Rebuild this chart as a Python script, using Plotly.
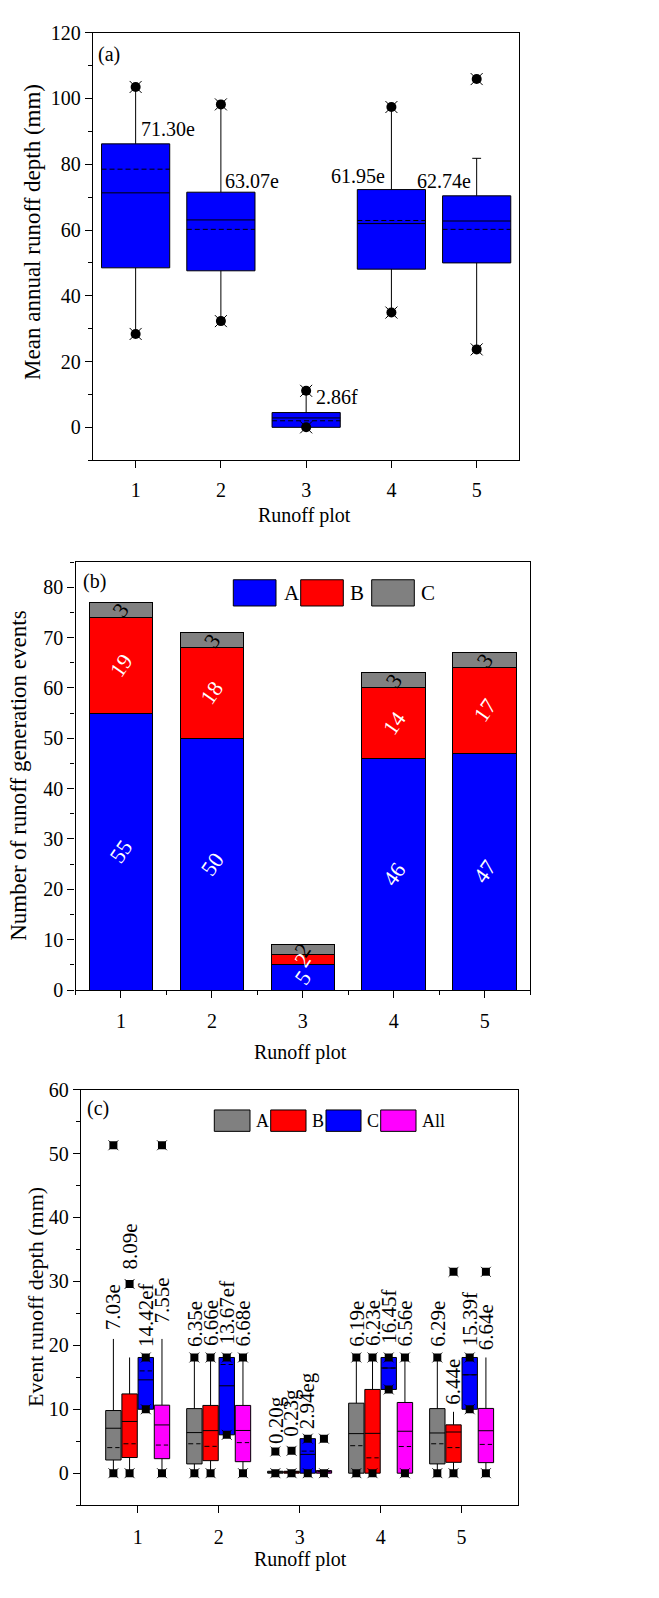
import plotly.graph_objects as go

W, H = 659, 1598
FONT = "Liberation Serif, Times New Roman, serif"

# ---------------- data ----------------
plots = [1, 2, 3, 4, 5]

# panel (a): mean annual runoff depth (mm)
a_q1 = [48.5, 47.6, 0.0, 48.1, 50.0]
a_median = [71.30, 63.07, 2.86, 61.95, 62.74]
a_q3 = [86.2, 71.5, 4.5, 72.3, 70.4]
a_mean = [78.5, 60.2, 2.0, 62.9, 60.2]
a_lowerfence = [28.4, 32.3, 0.0, 34.9, 23.7]
a_upperfence = [103.5, 98.2, 11.1, 97.4, 81.8]
a_min = [28.4, 32.3, 0.0, 34.9, 23.7]
a_max = [103.5, 98.2, 11.1, 97.4, 105.9]
a_letters = ["e", "e", "f", "e", "e"]

# panel (b): number of runoff generation events
b_A = [55, 50, 5, 46, 47]
b_B = [19, 18, 2, 14, 17]
b_C = [3, 3, 2, 3, 3]

# panel (c): event runoff depth (mm)
c_names = ["A", "B", "C", "All"]
c_q1 = {"A": [2.06, 1.45, 0.0, 0.0, 1.45],
        "B": [2.45, 1.96, 0.0, 0.0, 1.70],
        "C": [10.0, 6.0, 0.0, 13.1, 10.0],
        "All": [2.27, 1.80, 0.0, 0.0, 1.65]}
c_median = {"A": [7.03, 6.35, 0.20, 6.19, 6.29],
            "B": [8.09, 6.66, 0.23, 6.23, 6.44],
            "C": [14.6, 13.67, 2.94, 16.45, 15.39],
            "All": [7.55, 6.68, 0.20, 6.56, 6.64]}
c_q3 = {"A": [9.8, 10.1, 0.3, 10.95, 10.1],
        "B": [12.4, 10.6, 0.3, 13.1, 7.56],
        "C": [18.1, 18.1, 5.4, 18.1, 18.1],
        "All": [10.64, 10.6, 0.4, 11.06, 10.13]}
c_mean = {"A": [4.0, 4.6, 0.2, 4.3, 4.6],
          "B": [4.6, 4.2, 0.2, 2.4, 4.0],
          "C": [16.0, 17.0, 3.45, 16.45, 15.39],
          "All": [4.4, 4.78, 0.25, 4.17, 4.5]}
c_lowerfence = {"A": [0, 0, 0, 0, 0],
                "B": [0, 0, 0, 0, 0],
                "C": [10.0, 6.0, 0.0, 13.1, 10.0],
                "All": [0, 0, 0, 0, 0]}
c_upperfence = {"A": [21.0, 18.1, 0.3, 18.1, 18.1],
                "B": [18.1, 18.1, 0.3, 18.1, 9.6],
                "C": [18.1, 18.1, 5.4, 18.1, 18.1],
                "All": [21.0, 18.1, 0.4, 18.1, 18.1]}
c_min = {"A": [0, 0, 0, 0, 0],
         "B": [0, 0, 0, 0, 0],
         "C": [10.0, 6.0, 0.0, 13.1, 10.0],
         "All": [0, 0, 0, 0, 0]}
c_max = {"A": [51.3, 18.1, 3.4, 18.1, 18.1],
         "B": [29.6, 18.1, 3.5, 18.1, 31.5],
         "C": [18.1, 18.1, 5.4, 18.1, 18.1],
         "All": [51.3, 18.1, 5.4, 18.1, 31.5]}
c_labels = {"A": ["7.03e", "6.35e", "0.20g", "6.19e", "6.29e"],
            "B": ["8.09e", "6.66e", "0.23g", "6.23e", "6.44e"],
            "C": ["14.42ef", "13.67ef", "2.94eg", "16.45f", "15.39f"],
            "All": ["7.55e", "6.68e", "", "6.56e", "6.64e"]}

# ---------------- layout helpers / styles ----------------
def px(x):
    return x / W

def py(y):
    return 1 - y / H

BLUE, RED, GRAY, MAG = "#0000FF", "#FF0000", "#808080", "#FF00FF"
c_colors = {"A": GRAY, "B": RED, "C": BLUE, "All": MAG}
c_offsets = {"A": -0.3, "B": -0.1, "C": 0.1, "All": 0.3}
A_WIDTH = 0.8
C_WIDTH = 0.19
# label bottoms (y, data units) for panel (c)
c_label_base = {"A": [22.1, 19.5, 4.3, 19.5, 19.5],
                "B": [31.5, 19.5, 5.3, 19.5, 10.3],
                "C": [19.4, 19.8, 6.6, 19.9, 19.5],
                "All": [23.1, 19.5, 0, 19.5, 18.9]}
# panel (a) label shifts (px) relative to box anchor
a_label_shift = [(3, 15, "left"), (2, 11, "left"), (8, -6, "left"),
                 (-4, 14, "right"), (-4, 15, "right")]


def mean_segments(xs, means, width):
    lx, ly = [], []
    for x, m in zip(xs, means):
        lx += [x - width / 2, x + width / 2, None]
        ly += [m, m, None]
    return lx, ly


fig = go.Figure()

# ---------------- panel (a) ----------------
fig.add_trace(go.Box(
    x=plots, q1=a_q1, median=a_median, q3=a_q3,
    lowerfence=a_lowerfence, upperfence=a_upperfence,
    width=A_WIDTH, whiskerwidth=0.13, fillcolor=BLUE,
    line=dict(color="black", width=1), boxpoints=False,
    xaxis="x", yaxis="y", showlegend=False, hoverinfo="skip"))
mx, my = mean_segments(plots, a_mean, A_WIDTH)
fig.add_trace(go.Scatter(x=mx, y=my, mode="lines",
                         line=dict(color="black", width=1, dash="5px,3px"),
                         xaxis="x", yaxis="y", showlegend=False, hoverinfo="skip"))
fig.add_trace(go.Scatter(
    x=plots + plots, y=a_min + a_max, mode="markers",
    marker=dict(symbol="circle", size=10, color="black"),
    xaxis="x", yaxis="y", showlegend=False, hoverinfo="skip"))
fig.add_trace(go.Scatter(
    x=plots + plots, y=a_min + a_max, mode="markers",
    marker=dict(symbol="x-thin-open", size=12, color="black",
                line=dict(color="black", width=1)),
    xaxis="x", yaxis="y", showlegend=False, hoverinfo="skip"))

annotations = []
for i, p in enumerate(plots):
    dx, dy, anc = a_label_shift[i]
    yref_val = a_q3[i] if i != 2 else a_upperfence[i]
    annotations.append(dict(
        x=p, y=yref_val, xref="x", yref="y", text=f"{a_median[i]:.2f}{a_letters[i]}",
        showarrow=False, xanchor=anc, yanchor="middle", xshift=dx, yshift=dy,
        font=dict(family=FONT, size=20, color="black")))

# ---------------- panel (b) ----------------
for vals, col, name in [(b_A, BLUE, "A"), (b_B, RED, "B"), (b_C, GRAY, "C")]:
    fig.add_trace(go.Bar(
        x=plots, y=vals, name=name, marker=dict(color=col, line=dict(color="black", width=1)),
        width=0.7, xaxis="x2", yaxis="y2", showlegend=False, hoverinfo="skip"))

for i, p in enumerate(plots):
    base = 0
    for vals, tcol in [(b_A, "white"), (b_B, "white"), (b_C, "black")]:
        annotations.append(dict(
            x=p, y=base + vals[i] / 2, xref="x2", yref="y2", text=str(vals[i]),
            showarrow=False, textangle=-55, xanchor="center", yanchor="middle",
            font=dict(family=FONT, size=22, color=tcol)))
        base += vals[i]

# ---------------- panel (c) ----------------
for nm in c_names:
    xs = [p + c_offsets[nm] for p in plots]
    fig.add_trace(go.Box(
        x=xs, q1=c_q1[nm], median=c_median[nm], q3=c_q3[nm],
        lowerfence=c_lowerfence[nm], upperfence=c_upperfence[nm],
        width=C_WIDTH, whiskerwidth=0, fillcolor=c_colors[nm],
        line=dict(color="black", width=1), boxpoints=False,
        xaxis="x3", yaxis="y3", showlegend=False, hoverinfo="skip"))
for nm in c_names:
    xs = [p + c_offsets[nm] for p in plots]
    mx, my = mean_segments(xs, c_mean[nm], C_WIDTH * 0.8)
    fig.add_trace(go.Scatter(x=mx, y=my, mode="lines",
                             line=dict(color="black", width=1, dash="5px,3px"),
                             xaxis="x3", yaxis="y3", showlegend=False, hoverinfo="skip"))
for nm in c_names:
    xs = [p + c_offsets[nm] for p in plots]
    fig.add_trace(go.Scatter(
        x=xs + xs, y=c_min[nm] + c_max[nm], mode="markers",
        marker=dict(symbol="square", size=8, color="black"),
        xaxis="x3", yaxis="y3", showlegend=False, hoverinfo="skip"))
    fig.add_trace(go.Scatter(
        x=xs + xs, y=c_min[nm] + c_max[nm], mode="markers",
        marker=dict(symbol="x-thin-open", size=10, color="black",
                    line=dict(color="black", width=0.8)),
        xaxis="x3", yaxis="y3", showlegend=False, hoverinfo="skip"))
    for i, p in enumerate(plots):
        if c_labels[nm][i]:
            annotations.append(dict(
                x=xs[i], y=c_label_base[nm][i], xref="x3", yref="y3",
                text=c_labels[nm][i], showarrow=False, textangle=-90,
                xanchor="center", yanchor="bottom",
                font=dict(family=FONT, size=21, color="black")))

# ---------------- legends, titles, panel letters ----------------
shapes = []
def legend_item(x0, x1, y0, y1, color, label, tx, ty, size):
    shapes.append(dict(type="rect", xref="paper", yref="paper",
                       x0=px(x0), x1=px(x1), y0=py(y1), y1=py(y0),
                       fillcolor=color, line=dict(color="black", width=1)))
    annotations.append(dict(x=px(tx), y=py(ty), xref="paper", yref="paper", text=label,
                            showarrow=False, xanchor="left", yanchor="middle",
                            font=dict(family=FONT, size=size, color="black")))

legend_item(233.3, 276, 576.7, 603.3, BLUE, "A", 281.5, 590, 21)
legend_item(300.7, 343.3, 576.7, 603.3, RED, "B", 348, 590, 21)
legend_item(371.7, 414.3, 576.7, 603.3, GRAY, "C", 418.5, 590, 21)

legend_item(214.3, 250, 1114.3, 1136, GRAY, "A", 254, 1125.3, 18)
legend_item(270.7, 306, 1114.3, 1136, RED, "B", 309.5, 1125.3, 18)
legend_item(326, 361, 1114.3, 1136, BLUE, "C", 364.5, 1125.3, 18)
legend_item(380.7, 416, 1114.3, 1136, MAG, "All", 419.5, 1125.3, 18)

def text_px(x, y, text, size, angle=0, xanchor="center"):
    annotations.append(dict(x=px(x), y=py(y), xref="paper", yref="paper", text=text,
                            showarrow=False, textangle=angle, xanchor=xanchor,
                            yanchor="middle", font=dict(family=FONT, size=size, color="black")))

text_px(96, 44, "(a)", 20, xanchor="left")
text_px(80.5, 578, "(b)", 20, xanchor="left")
text_px(84.5, 1113, "(c)", 20, xanchor="left")

text_px(304, 512, "Runoff plot", 20)
text_px(300, 1056, "Runoff plot", 20)
text_px(300, 1570, "Runoff plot", 20)

text_px(33, 224, "Mean annual runoff depth (mm)", 23, angle=-90)
text_px(18.5, 776, "Number of runoff generation events", 23, angle=-90)
text_px(35, 1304, "Event runoff depth (mm)", 22, angle=-90)

tickfont = dict(family=FONT, size=20, color="black")
axis_common = dict(showline=True, linecolor="black", linewidth=1.3, mirror=True,
                   ticks="outside", ticklen=7, tickwidth=1.3, tickcolor="black",
                   showgrid=False, zeroline=False, tickfont=tickfont)

fig.update_layout(
    width=W, height=H, margin=dict(l=0, r=0, t=0, b=0),
    paper_bgcolor="white", plot_bgcolor="white",
    font=dict(family=FONT, color="black"),
    barmode="stack", boxmode="overlay",
    xaxis=dict(domain=[px(93), px(519.3)], range=[0.5, 5.5], anchor="y",
               tickmode="array", tickvals=plots, ticklabelstandoff=5, **axis_common),
    yaxis=dict(domain=[py(455.5), py(22)], range=[-10, 120], anchor="x",
               tickmode="linear", tick0=0, dtick=20,
               minor=dict(ticks="outside", ticklen=4, tickcolor="black", tick0=0, dtick=10),
               **axis_common),
    xaxis2=dict(domain=[px(75.5), px(530.2)], range=[0.5, 5.5], anchor="y2",
                tickmode="linear", tick0=1, dtick=1, ticklabelstandoff=6,
                minor=dict(ticks="outside", ticklen=4, tickcolor="black", tick0=0.5, dtick=0.5),
                **axis_common),
    yaxis2=dict(domain=[py(992.7), py(558.7)], range=[0, 85], anchor="x2",
                tickmode="linear", tick0=0, dtick=10,
                minor=dict(ticks="outside", ticklen=4, tickcolor="black", tick0=0, dtick=5),
                **axis_common),
    xaxis3=dict(domain=[px(81), px(518.3)], range=[0.3, 5.7], anchor="y3",
                tickmode="array", tickvals=plots, ticklabelstandoff=7, **axis_common),
    yaxis3=dict(domain=[py(1515), py(1093.7)], range=[-5, 60], anchor="x3",
                tickmode="linear", tick0=0, dtick=10,
                minor=dict(ticks="outside", ticklen=4, tickcolor="black", tick0=0, dtick=5),
                **axis_common),
    annotations=annotations,
    shapes=shapes,
)

fig.write_html("out.html")
